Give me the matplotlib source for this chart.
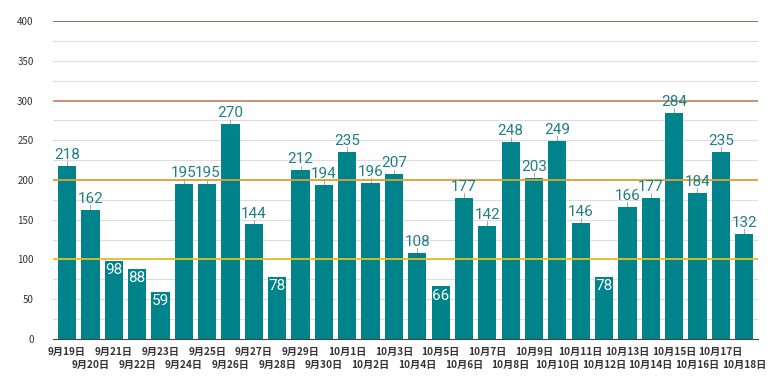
import numpy as np
import matplotlib.pyplot as plt
import matplotlib.transforms as mtransforms

plt.rcParams['font.family'] = ['Noto Sans CJK SC', 'DejaVu Sans']

dates = ['9月19日', '9月20日', '9月21日', '9月22日', '9月23日', '9月24日', '9月25日',
         '9月26日', '9月27日', '9月28日', '9月29日', '9月30日', '10月1日', '10月2日',
         '10月3日', '10月4日', '10月5日', '10月6日', '10月7日', '10月8日', '10月9日',
         '10月10日', '10月11日', '10月12日', '10月13日', '10月14日', '10月15日',
         '10月16日', '10月17日', '10月18日']
values = [218, 162, 98, 88, 59, 195, 195, 270, 144, 78, 212, 194, 235, 196, 207,
          108, 66, 177, 142, 248, 203, 249, 146, 78, 166, 177, 284, 184, 235, 132]

# reference lines
ref_levels = [100, 200, 300, 400]
ref_colors = ['#e6c01a', '#e0a030', '#c98a6a', '#8b5e50']

teal = '#00838a'

fig = plt.figure(figsize=(7.8, 3.9), dpi=100)
ax = fig.add_axes([0.068, 0.131, 0.904, 0.815])

x = np.arange(len(values))
ax.set_ylim(0, 400)
ax.set_xlim(-0.6, len(values) - 0.4)

for y in np.arange(25, 400, 25):
    ax.axhline(y, color='#dddddd', lw=0.8, zorder=0)
for lvl, c in zip(ref_levels, ref_colors):
    ax.axhline(lvl, color=c, lw=1.3, zorder=3)

ax.bar(x, values, width=0.78, color=teal, zorder=2)

for xi, v in zip(x, values):
    if v < 100:
        ax.text(xi, v - 3, str(v), ha='center', va='top', color='white',
                fontsize=11, family=['Roboto', 'DejaVu Sans'], zorder=4)
    else:
        ax.plot([xi, xi], [v, v + 6], color='#999999', lw=0.6, zorder=1)
        ax.text(xi, v + 5, str(v), ha='center', va='bottom', color='#1f7f86',
                fontsize=11, family=['Roboto', 'DejaVu Sans'], zorder=4)

ax.set_yticks(np.arange(0, 401, 50))
ax.tick_params(axis='y', length=0, labelsize=7, pad=14, colors='#333333')

# two staggered rows of date labels
ax.set_xticks(x)
ax.set_xticklabels([])
ax.tick_params(axis='x', length=0)
trans = mtransforms.blended_transform_factory(ax.transData, ax.transAxes)
for i, d in enumerate(dates):
    yoff = -0.025 if i % 2 == 0 else -0.066
    ax.text(i, yoff, d, transform=trans, ha='center', va='top', fontsize=7.3,
            fontweight='bold', color='#333333')

for s in ['top', 'right', 'left']:
    ax.spines[s].set_visible(False)
ax.spines['bottom'].set_color('#444444')
ax.spines['bottom'].set_linewidth(0.8)

fig.savefig('out.png', dpi=100)
